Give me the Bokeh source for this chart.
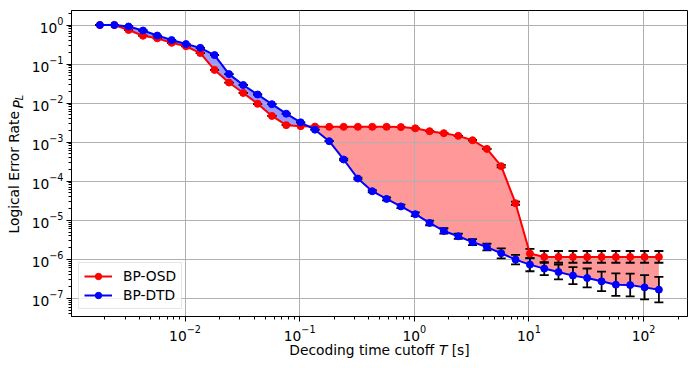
import numpy as np
from bokeh.plotting import figure
from bokeh.models import (ColumnDataSource, Range1d, FixedTicker, LogTickFormatter,
                          Whisker, TeeHead, Label)
from bokeh.embed import file_html
from bokeh.resources import INLINE

# ---------------- data ----------------
cutoff_s = [0.00181, 0.00242, 0.00322, 0.00430, 0.00573, 0.00764, 0.0102, 0.0136,
            0.0181, 0.0242, 0.0322, 0.0430, 0.0573, 0.0764, 0.102, 0.136,
            0.181, 0.242, 0.322, 0.430, 0.573, 0.764, 1.02, 1.36,
            1.81, 2.42, 3.22, 4.30, 5.73, 7.64, 10.2, 13.6,
            18.1, 24.2, 32.2, 43.0, 57.3, 76.4, 102.0, 136.0]

osd_label = "BP-OSD"
osd_pl = [1.0, 1.0, 0.745, 0.532, 0.456, 0.350, 0.286, 0.191,
          0.0710, 0.0336, 0.0182, 0.0096, 0.00469, 0.00273, 0.00257, 0.00250,
          0.00247, 0.00247, 0.00247, 0.00247, 0.00247, 0.00243, 0.00226, 0.00191,
          0.00170, 0.00145, 0.00112, 6.73e-4, 2.43e-4, 2.73e-5, 1.40e-6, 1.15e-6,
          1.15e-6, 1.15e-6, 1.15e-6, 1.15e-6, 1.15e-6, 1.15e-6, 1.15e-6, 1.15e-6]
osd_lo = [None] * 28 + [2.27e-4, 2.47e-5, 1.06e-6] + [8.15e-7] * 9
osd_hi = [None] * 28 + [2.60e-4, 3.01e-5, 1.85e-6] + [1.63e-6] * 9

dtd_label = "BP-DTD"
dtd_pl = [1.0, 1.0, 0.916, 0.723, 0.538, 0.412, 0.326, 0.260,
          0.170, 0.0554, 0.0291, 0.0166, 0.0094, 0.00537, 0.00322, 0.00209,
          0.00106, 3.60e-4, 1.17e-4, 5.55e-5, 3.52e-5, 2.26e-5, 1.43e-5, 8.53e-6,
          5.32e-6, 3.89e-6, 2.75e-6, 2.06e-6, 1.43e-6, 9.82e-7, 7.31e-7, 5.78e-7,
          4.72e-7, 3.82e-7, 3.32e-7, 2.73e-7, 2.24e-7, 2.19e-7, 1.91e-7, 1.67e-7]
dtd_lo = [None] * 17 + [3.44e-4, 1.12e-4, 5.22e-5, 3.22e-5, 2.04e-5, 1.27e-5, 7.45e-6,
                        4.54e-6, 3.32e-6, 2.31e-6, 1.69e-6, 1.06e-6, 7.40e-7, 4.94e-7, 3.95e-7,
                        3.05e-7, 2.30e-7, 1.90e-7, 1.53e-7, 1.15e-7, 1.12e-7, 9.38e-8, 7.91e-8]
dtd_hi = [None] * 17 + [3.77e-4, 1.23e-4, 5.89e-5, 3.84e-5, 2.51e-5, 1.60e-5, 9.77e-6,
                        6.24e-6, 4.56e-6, 3.29e-6, 2.50e-6, 1.91e-6, 1.30e-6, 1.08e-6, 8.45e-7,
                        7.31e-7, 6.34e-7, 5.81e-7, 4.85e-7, 4.38e-7, 4.28e-7, 3.91e-7, 3.53e-7]

x_ticks = [1e-2, 1e-1, 1e0, 1e1, 1e2]
y_ticks = [1e-7, 1e-6, 1e-5, 1e-4, 1e-3, 1e-2, 1e-1, 1e0]

NB = "\u00a0"
x_title = ["Decoding time cutoff", "T", "[s]"]
y_title = ["Logical Error Rate", "P", "L"]

# ---------------- figure ----------------
FONT = "DejaVu Sans"
FS = "13.8px"

p = figure(width=698, height=368, x_axis_type="log", y_axis_type="log",
           x_range=Range1d(10 ** -2.99, 10 ** 2.383),
           y_range=Range1d(10 ** -7.465, 10 ** 0.372),
           output_backend="svg", toolbar_location=None,
           min_border_left=71, min_border_right=11, min_border_top=10, min_border_bottom=52,
           background_fill_color="white", border_fill_color="white")
p.outline_line_color = "black"
p.outline_line_width = 1
p.outline_line_alpha = 1

def minor_of(major):
    out = []
    for t in [major[0] / 10] + list(major):
        out += [m * t for m in range(2, 10)]
    return out

p.xaxis.ticker = FixedTicker(ticks=x_ticks, minor_ticks=minor_of(x_ticks))
p.yaxis.ticker = FixedTicker(ticks=y_ticks, minor_ticks=minor_of(y_ticks))
for ax in (p.xaxis[0], p.yaxis[0]):
    ax.formatter = LogTickFormatter()
    ax.axis_line_color = "black"
    ax.major_tick_line_color = "black"
    ax.minor_tick_line_color = "black"
    ax.major_tick_in = 0
    ax.major_tick_out = 5
    ax.minor_tick_in = 0
    ax.minor_tick_out = 3
    ax.major_label_text_font = FONT
    ax.major_label_text_font_size = FS
    ax.major_label_text_color = "black"
    ax.major_label_standoff = 3
    ax.axis_label_text_font = FONT
    ax.axis_label_text_font_size = FS
    ax.axis_label_text_font_style = "normal"
    ax.axis_label_text_color = "black"

# the normal-style parts go in the axis labels; a gap is left for the italic symbols
p.xaxis[0].axis_label = x_title[0] + NB * 4 + x_title[2]
p.xaxis[0].axis_label_standoff = -2
p.yaxis[0].axis_label = y_title[0] + NB * 4
p.yaxis[0].axis_label_standoff = 7

p.grid.grid_line_color = "#b0b0b0"
p.grid.grid_line_width = 1

# ---------------- fills between the curves ----------------
x = np.array(cutoff_s)
osd = np.array(osd_pl)
dtd = np.array(dtd_pl)
lx, lr, lb = np.log10(x), np.log10(osd), np.log10(dtd)
fx, fr, fb = [lx[0]], [lr[0]], [lb[0]]
for i in range(1, len(lx)):
    d0 = lb[i - 1] - lr[i - 1]
    d1 = lb[i] - lr[i]
    if d0 * d1 < 0:
        t = d0 / (d0 - d1)
        xc = lx[i - 1] + t * (lx[i] - lx[i - 1])
        yc = lr[i - 1] + t * (lr[i] - lr[i - 1])
        fx.append(xc); fr.append(yc); fb.append(yc)
    fx.append(lx[i]); fr.append(lr[i]); fb.append(lb[i])
fx, fr, fb = 10 ** np.array(fx), 10 ** np.array(fr), 10 ** np.array(fb)

p.varea(x=fx, y1=fr, y2=np.maximum(fb, fr), fill_color="blue", fill_alpha=0.4, level="image")
p.varea(x=fx, y1=fb, y2=np.maximum(fr, fb), fill_color="red", fill_alpha=0.4, level="image")

# ---------------- series ----------------
def add_series(vals, lo, hi, color, label):
    lo = [v if l is None else l for v, l in zip(vals, lo)]
    hi = [v if h is None else h for v, h in zip(vals, hi)]
    src = ColumnDataSource(dict(x=cutoff_s, y=vals, lo=lo, hi=hi))
    p.line("x", "y", source=src, line_color=color, line_width=2, legend_label=label)
    p.scatter("x", "y", source=src, size=7, fill_color=color, line_color=color,
              legend_label=label)
    w = Whisker(source=src, base="x", lower="lo", upper="hi",
                line_color="black", line_width=1.8,
                upper_head=TeeHead(size=9, line_color="black", line_width=1.8),
                lower_head=TeeHead(size=9, line_color="black", line_width=1.8))
    p.add_layout(w)

add_series(osd_pl, osd_lo, osd_hi, "red", osd_label)
add_series(dtd_pl, dtd_lo, dtd_hi, "blue", dtd_label)

# ---------------- legend ----------------
lg = p.legend[0]
lg.location = (7, 7)
lg.margin = 0
lg.padding = 5
lg.spacing = 3
lg.glyph_width = 28
lg.glyph_height = 16
lg.label_height = 16
lg.label_standoff = 11
lg.label_text_font = FONT
lg.label_text_font_size = FS
lg.label_text_color = "black"
lg.border_line_color = "#cccccc"
lg.border_line_width = 1
lg.background_fill_color = "white"
lg.background_fill_alpha = 0.8

# ---------------- italic symbols (small labels in the side panels, not clipped) ----------------
def lab(x, y, text, size=FS, angle=0):
    return Label(x=x, y=y, x_units="screen", y_units="screen", text=text,
                 text_font=FONT, text_font_size=size, text_font_style="italic",
                 text_color="black", angle=angle, text_align="left",
                 text_baseline="alphabetic")

A = np.pi / 2
p.add_layout(lab(-248.5, -33.0, x_title[1]), "right")          # T
p.add_layout(lab(-54.0, -98.0, y_title[1], angle=A), "above")  # P
p.add_layout(lab(-52.5, 265.2, y_title[2], size="9.7px", angle=A), "below")  # L

open("out.html", "w").write(file_html(p, INLINE))
